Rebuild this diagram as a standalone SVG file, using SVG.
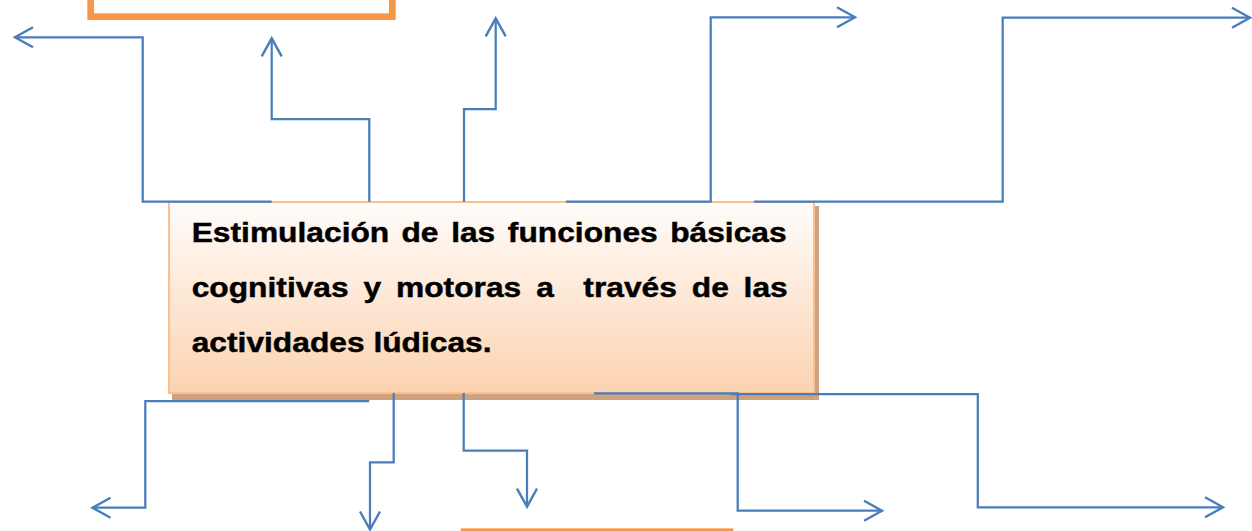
<svg xmlns="http://www.w3.org/2000/svg" width="1252" height="531" viewBox="0 0 1252 531">
  <style>
    .conn { fill: none; stroke: #4A7EBB; stroke-width: 2.25; marker-end: url(#arrow); }
    .frame { fill: #FFFFFF; stroke: #F79646; stroke-width: 6.7; }
    .label { font-family: "Liberation Sans", Arial, sans-serif; font-weight: bold; font-size: 28.5px; fill: #000000; stroke: #000000; stroke-width: 0.45; }
  </style>
  <defs>
    <marker id="arrow" markerUnits="userSpaceOnUse" viewBox="-22 -13 26 26" refX="0" refY="0" markerWidth="26" markerHeight="26" orient="auto">
      <path d="M-18,-10 L0,0 L-18,10" fill="none" stroke="#4A7EBB" stroke-width="2.4"/>
    </marker>
    <linearGradient id="boxFill" x1="0" y1="0" x2="0" y2="1">
      <stop offset="0" stop-color="#FFFCFA"/>
      <stop offset="1" stop-color="#FCD3B1"/>
    </linearGradient>
  </defs>

  <g id="node-top-box">
    <rect class="frame" x="90.7" y="-40" width="301.6" height="56.7"/>
  </g>

  <g id="node-bottom-box">
    <rect class="frame" x="464" y="531.7" width="266" height="60"/>
  </g>

  <g id="node-main">
    <rect x="172" y="206" width="647" height="194" fill="#CFA27F"/>
    <rect x="169" y="202" width="645" height="191" fill="url(#boxFill)" stroke="#FAC08F" stroke-width="2"/>
    <g class="label" transform="translate(191.7,0) scale(1.114,1)">
      <text y="242"><tspan x="0">Estimulación</tspan><tspan x="188.3">de</tspan><tspan x="232.9">las</tspan><tspan x="283.8">funciones</tspan><tspan x="429.5">básicas</tspan></text>
      <text y="297.5"><tspan x="0">cognitivas</tspan><tspan x="154.3">y</tspan><tspan x="183.4">motoras</tspan><tspan x="309.2">a</tspan><tspan x="351.6">través</tspan><tspan x="448.9">de</tspan><tspan x="495.4">las</tspan></text>
      <text y="352.5"><tspan x="0">actividades lúdicas.</tspan></text>
    </g>
  </g>

  <g id="connectors">
    <path class="conn" d="M271.7,201.7 H142.7 V37.3 H15"/>
    <path class="conn" d="M369.3,201.7 V119 H271.7 V38.3"/>
    <path class="conn" d="M464,201.7 V109 H495.7 V18.3"/>
    <path class="conn" d="M566,201.7 H710.7 V17.3 H855"/>
    <path class="conn" d="M754,201.7 H1002.7 V17.7 H1250"/>
    <path class="conn" d="M369.2,401 H145.3 V507.7 H92.5"/>
    <path class="conn" d="M393.7,393 V462.3 H370 V529.5"/>
    <path class="conn" d="M463.7,393 V450.7 H527 V506.7"/>
    <path class="conn" d="M594,393.3 H737.7 V510.7 H882"/>
    <path class="conn" d="M731,394 H977.8 V507.3 H1223"/>
  </g>
</svg>
